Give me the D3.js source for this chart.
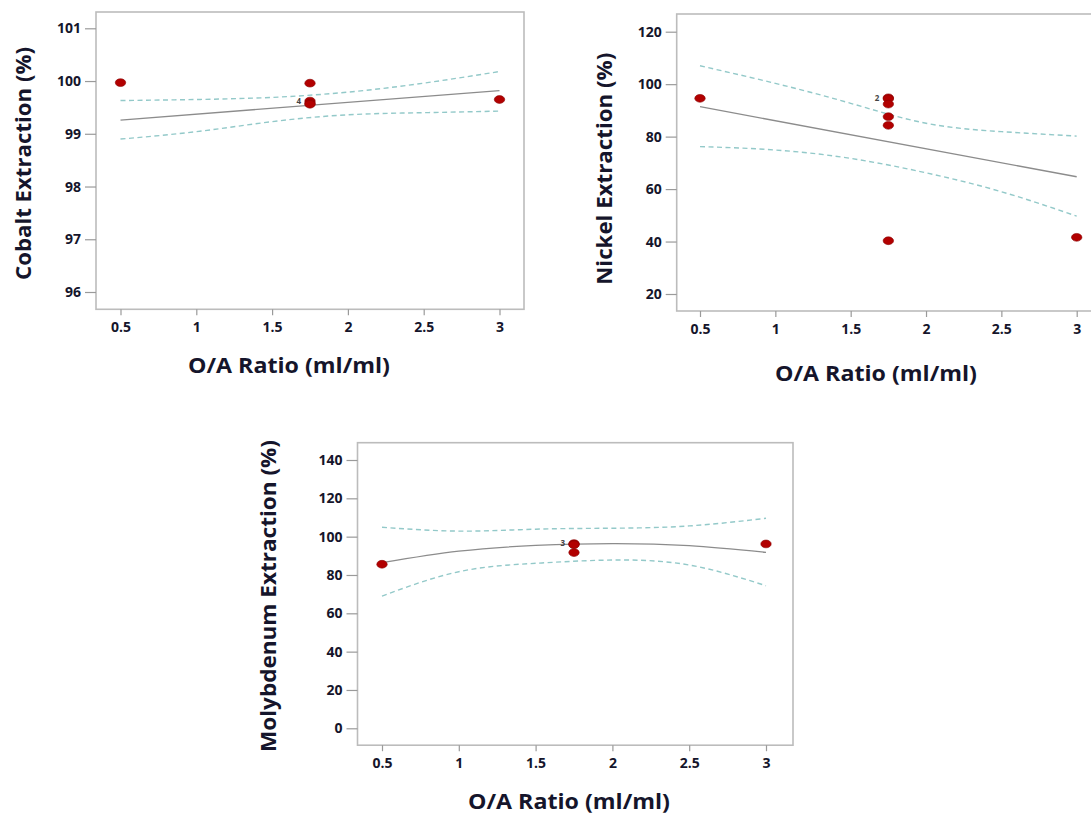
<!DOCTYPE html>
<html>
<head>
<meta charset="utf-8">
<script src="https://cdn.jsdelivr.net/npm/d3@7"></script>
<style>
  html, body { margin: 0; padding: 0; background: #fff; }
  svg { display: block; }
</style>
</head>
<body>
<svg id="chart" width="1091" height="816"></svg>
<script>
// ---------- DATA ----------
const xTicks = [0.5, 1, 1.5, 2, 2.5, 3];
const xTickLabels = ["0.5", "1", "1.5", "2", "2.5", "3"];
const curveX = [0.5, 1, 1.5, 2, 2.5, 3];
const xTitle = "O/A Ratio (ml/ml)";

// Cobalt
const coTicks = [96, 97, 98, 99, 100, 101];
const coPointX = [0.5, 1.75, 1.75, 1.75, 1.75, 3];
const coPointY = [99.97, 99.96, 99.62, 99.58, 99.56, 99.65];
const coFitX = [0.5, 3];
const coFitY = [99.26, 99.82];
const coUpper = [99.63, 99.65, 99.69, 99.79, 99.96, 100.18];
const coLower = [98.90, 99.04, 99.23, 99.36, 99.40, 99.43];
const coTitle = "Cobalt Extraction (%)";
const coOverlap = { x: 1.75, y: 99.62, label: "4" };

// Nickel
const niTicks = [20, 40, 60, 80, 100, 120];
const niPointX = [0.5, 1.75, 1.75, 1.75, 1.75, 1.75, 1.75, 3];
const niPointY = [94.6, 94.8, 94.4, 92.4, 87.6, 84.3, 40.3, 41.6];
const niFitX = [0.5, 3];
const niFitY = [91.4, 64.7];
const niUpper = [107.0, 100.3, 92.7, 85.1, 81.9, 80.2];
const niLower = [76.2, 74.9, 71.7, 66.2, 59.0, 49.7];
const niTitle = "Nickel Extraction (%)";
const niOverlap = { x: 1.75, y: 94.6, label: "2" };

// Molybdenum
const moTicks = [0, 20, 40, 60, 80, 100, 120, 140];
const moPointX = [0.5, 1.75, 1.75, 1.75, 1.75, 3];
const moPointY = [85.6, 96.4, 96.0, 95.8, 91.7, 96.2];
const moFitX = curveX;
const moFitY = [86.4, 92.4, 95.4, 96.4, 95.3, 91.8];
const moUpper = [104.9, 102.9, 103.9, 104.4, 105.6, 109.6];
const moLower = [69.0, 81.7, 86.1, 87.8, 85.2, 74.4];
const moTitle = "Molybdenum Extraction (%)";
const moOverlap = { x: 1.75, y: 96.2, label: "3" };

// ---------- LAYOUT ----------
const panels = [
  { frame: [96, 12, 524, 309.3], xr: [120.5, 499.5], ydom: [96, 101], yr: [292, 28.3],
    ticks: coTicks, px: coPointX, py: coPointY, fx: coFitX, fy: coFitY, up: coUpper, lo: coLower,
    title: coTitle, ov: coOverlap, xTitleY: 373, xTitleX: 289, xLabY: 332, yTitleX: 22, yTitleY: 163.5,
    yTitleLen: 233, fitCurve: d3.curveLinear },
  { frame: [676.7, 14, 1100, 311], xr: [700, 1076.7], ydom: [20, 120], yr: [294, 31.7],
    ticks: niTicks, px: niPointX, py: niPointY, fx: niFitX, fy: niFitY, up: niUpper, lo: niLower,
    title: niTitle, ov: niOverlap, xTitleY: 381, xTitleX: 876, xLabY: 335, yTitleX: 603, yTitleY: 168.8,
    yTitleLen: 232, fitCurve: d3.curveLinear },
  { frame: [357.5, 442.7, 793, 745.2], xr: [382, 766], ydom: [0, 140], yr: [728.3, 460],
    ticks: moTicks, px: moPointX, py: moPointY, fx: moFitX, fy: moFitY, up: moUpper, lo: moLower,
    title: moTitle, ov: moOverlap, xTitleY: 809, xTitleX: 569, xLabY: 771, yTitleX: 267, yTitleY: 596,
    yTitleLen: 312, fitCurve: d3.curveNatural }
];

const svg = d3.select("#chart");
const textCol = "#15152b";
const fontFam = "'Open Sans', 'Segoe UI', sans-serif";

panels.forEach(p => {
  const [fx0, fy0, fx1, fy1] = p.frame;
  const x = d3.scaleLinear().domain([0.5, 3]).range(p.xr);
  const y = d3.scaleLinear().domain(p.ydom).range(p.yr);
  const g = svg.append("g");

  // frame
  g.append("rect")
    .attr("x", fx0).attr("y", fy0)
    .attr("width", fx1 - fx0).attr("height", fy1 - fy0)
    .attr("fill", "none").attr("stroke", "#bcbcbc").attr("stroke-width", 1.6);

  // y axis
  const yAxis = d3.axisLeft(y).tickValues(p.ticks).tickSize(11).tickPadding(4)
    .tickFormat(d3.format("d"));
  const ya = g.append("g").attr("transform", `translate(${fx0},0)`).call(yAxis);
  ya.select(".domain").remove();
  ya.selectAll(".tick line").attr("stroke", "#9a9a9a").attr("stroke-width", 1.2);
  ya.selectAll(".tick text")
    .attr("fill", textCol).attr("font-family", fontFam)
    .attr("font-size", 14).attr("font-weight", 700);

  // x axis
  const xAxis = d3.axisBottom(x).tickValues(xTicks).tickSize(6).tickPadding(7)
    .tickFormat((d, i) => xTickLabels[i]);
  const xa = g.append("g").attr("transform", `translate(0,${fy1})`).call(xAxis);
  xa.select(".domain").remove();
  xa.selectAll(".tick line").attr("stroke", "#9a9a9a").attr("stroke-width", 1.2);
  xa.selectAll(".tick text")
    .attr("fill", textCol).attr("font-family", fontFam)
    .attr("font-size", 14).attr("font-weight", 700);

  // confidence bands
  const band = d3.line().x((d, i) => x(curveX[i])).y(d => y(d)).curve(d3.curveNatural);
  [p.up, p.lo].forEach(arr => {
    g.append("path").attr("d", band(arr))
      .attr("fill", "none").attr("stroke", "#93c9c9")
      .attr("stroke-width", 1.4).attr("stroke-dasharray", "5,3.5");
  });

  // fit line
  const fit = d3.line().x((d, i) => x(p.fx[i])).y(d => y(d)).curve(p.fitCurve);
  g.append("path").attr("d", fit(p.fy))
    .attr("fill", "none").attr("stroke", "#8c8c8c").attr("stroke-width", 1.3);

  // points
  g.selectAll("ellipse.pt").data(p.py).enter().append("ellipse")
    .attr("class", "pt")
    .attr("cx", (d, i) => x(p.px[i])).attr("cy", d => y(d))
    .attr("rx", 5.2).attr("ry", 3.9)
    .attr("fill", "#b20000").attr("stroke", "#8a0000").attr("stroke-width", 0.6);

  // overlap count label
  g.append("text")
    .attr("x", x(p.ov.x) - 9).attr("y", y(p.ov.y) + 2.5)
    .attr("text-anchor", "end")
    .attr("font-family", fontFam).attr("font-size", 8).attr("font-weight", 700)
    .attr("fill", "#444").text(p.ov.label);

  // x title
  g.append("text")
    .attr("x", p.xTitleX).attr("y", p.xTitleY)
    .attr("text-anchor", "middle")
    .attr("font-family", fontFam).attr("font-size", 22).attr("font-weight", 700)
    .attr("fill", textCol)
    .attr("textLength", 202).attr("lengthAdjust", "spacingAndGlyphs")
    .text(xTitle);

  // y title
  g.append("text")
    .attr("transform", `translate(${p.yTitleX},${p.yTitleY}) rotate(-90)`)
    .attr("text-anchor", "middle").attr("dominant-baseline", "central")
    .attr("font-family", fontFam).attr("font-size", 22).attr("font-weight", 700)
    .attr("fill", textCol)
    .attr("textLength", p.yTitleLen).attr("lengthAdjust", "spacingAndGlyphs")
    .text(p.title);
});
</script>
</body>
</html>
